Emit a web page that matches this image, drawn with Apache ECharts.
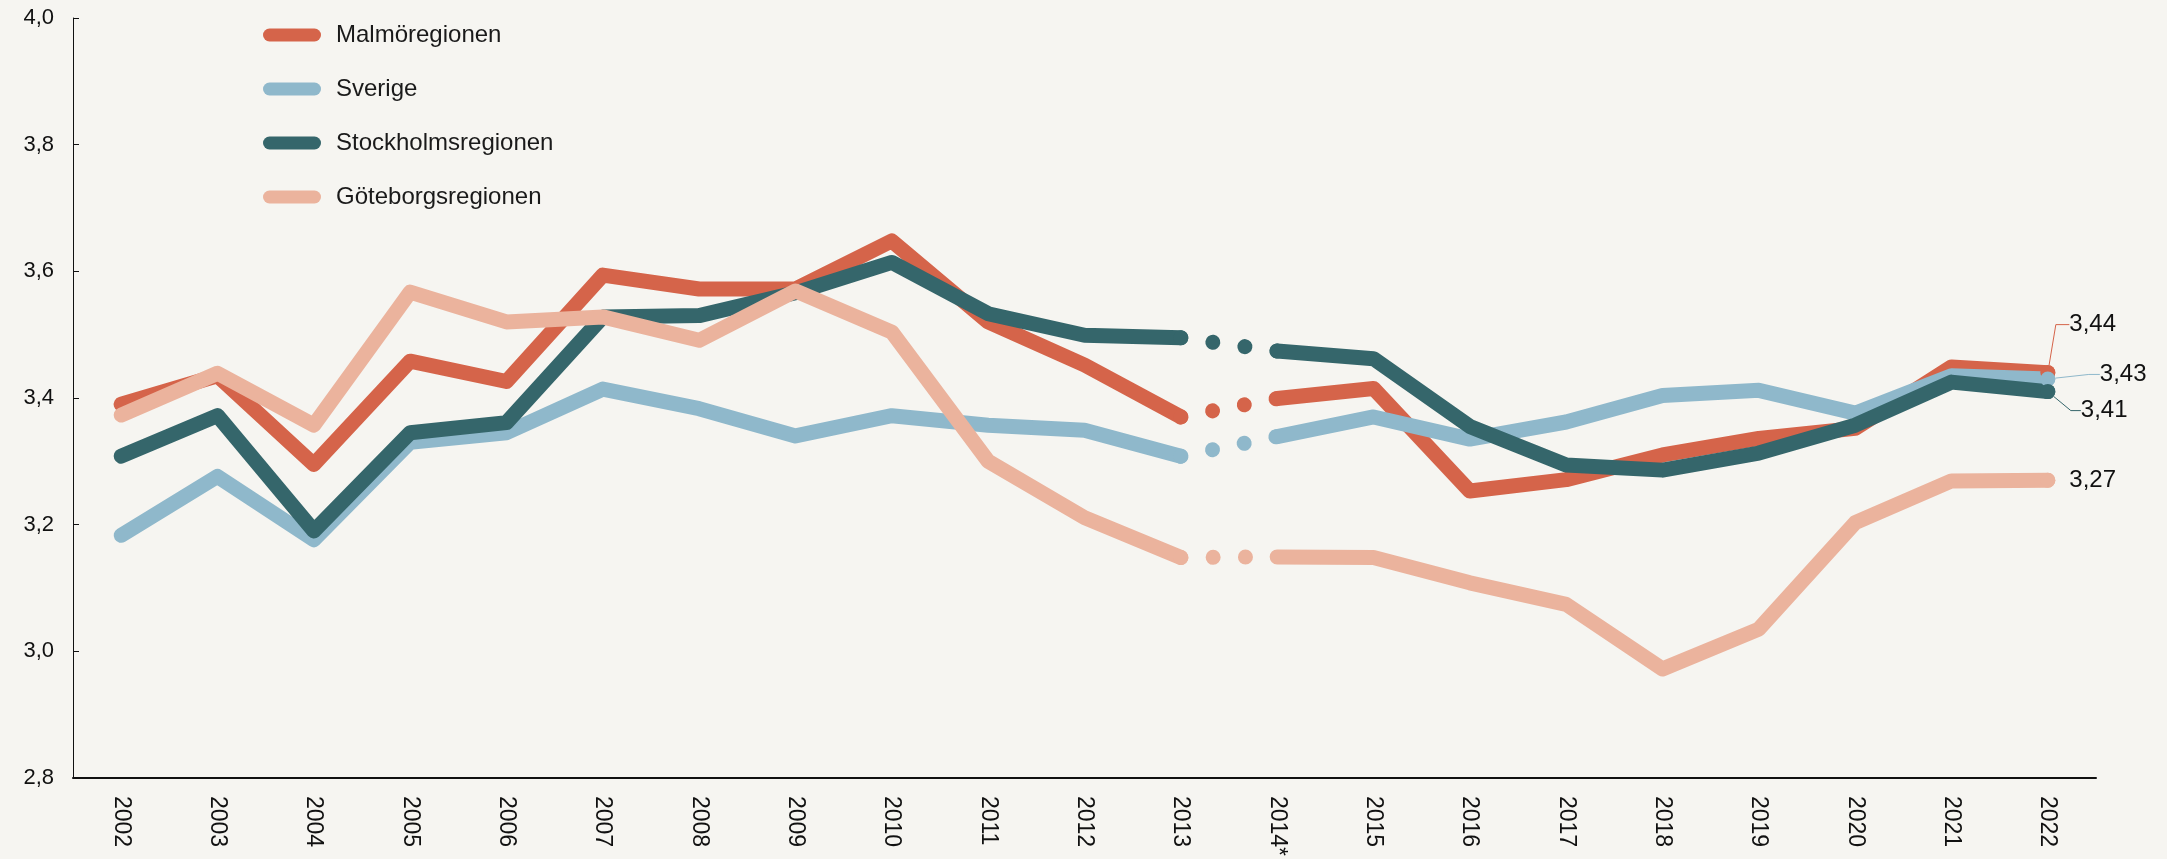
<!DOCTYPE html>
<html>
<head>
<meta charset="utf-8">
<title>Regioner 2002-2022</title>
<script src="https://cdn.jsdelivr.net/npm/echarts@6/dist/echarts.min.js"></script>
<style>
  html, body { margin: 0; padding: 0; background: #f6f5f1; }
  #main { width: 2167px; height: 859px; }
</style>
</head>
<body>
<div id="main"></div>
<script>
// kategorier (2014 har ett brott i serien)
var years = ['2002', '2003', '2004', '2005', '2006', '2007', '2008', '2009', '2010', '2011', '2012',
  '2013', '2014*', '2015', '2016', '2017', '2018', '2019', '2020', '2021', '2022'];
var yTicks = [2.8, 3.0, 3.2, 3.4, 3.6, 3.8, 4.0];

// värden
var malmo = [3.39, 3.435, 3.295, 3.458, 3.426, 3.594, 3.572, 3.572, 3.648, 3.52, 3.452,
  3.37, 3.399, 3.415, 3.253, 3.271, 3.31, 3.336, 3.352, 3.449, 3.44];
var sverige = [3.183, 3.276, 3.176, 3.33, 3.345, 3.414, 3.383, 3.34, 3.372, 3.357, 3.349,
  3.308, 3.339, 3.37, 3.335, 3.362, 3.404, 3.412, 3.376, 3.435, 3.43];
var stockholm = [3.308, 3.372, 3.19, 3.345, 3.361, 3.528, 3.53, 3.566, 3.614, 3.533, 3.499,
  3.495, 3.474, 3.462, 3.355, 3.294, 3.286, 3.313, 3.357, 3.425, 3.41];
var goteborg = [3.373, 3.439, 3.357, 3.567, 3.52, 3.528, 3.491, 3.569, 3.504, 3.3, 3.211,
  3.148, 3.149, 3.148, 3.108, 3.074, 2.972, 3.035, 3.203, 3.269, 3.27];

var breakIdx = years.indexOf('2014*');
var lineW = 15;
var font = '"Liberation Sans", Arial, sans-serif';

function comma(v, d) {
  return v.toFixed(d).replace('.', ',');
}

// en region = heldragen före brottet, prickar över brottet, heldragen efter
function region(name, values, color, layout, guide) {
  var before = values.map(function (v, i) { return i < breakIdx ? v : null; });
  var after = values.map(function (v, i) { return i >= breakIdx ? v : null; });
  var gap = values.map(function (v, i) { return (i === breakIdx - 1 || i === breakIdx) ? v : null; });
  var last = values.length - 1;
  after[last] = { value: values[last], symbol: 'circle', symbolSize: lineW, label: { show: true } };

  var base = {
    name: name,
    type: 'line',
    symbol: 'none',
    color: color,
    silent: true,
    lineStyle: { width: lineW, color: color, cap: 'round', join: 'round' }
  };
  var s1 = Object.assign({}, base, { data: before });
  var s2 = Object.assign({}, base, {
    data: after,
    label: {
      position: 'right',
      distance: 6,
      padding: [0, 0, 0, 8],
      fontSize: 24,
      fontFamily: font,
      color: '#111',
      formatter: function (p) { return comma(p.value, 2); }
    },
    labelLayout: layout,
    labelLine: { show: guide > 0, length2: guide, lineStyle: { width: 1, color: color } }
  });
  var s3 = Object.assign({}, base, {
    data: gap,
    lineStyle: { width: lineW, color: color, cap: 'round', type: [0.01, 32.3] }
  });
  return [s1, s3, s2];
}

var series = [].concat(
  region('Malmöregionen', malmo, '#d5644a', { dx: 0, dy: -48 }, 13.5),
  region('Sverige', sverige, '#8fb8cb', { dx: 30.5, dy: -4.5 }, 11),
  region('Stockholmsregionen', stockholm, '#35666b', { dx: 11.5, dy: 19 }, 10),
  region('Göteborgsregionen', goteborg, '#ebb39d', { dx: 0, dy: 0 }, 0)
);

var chart = echarts.init(document.getElementById('main'));
chart.setOption({
  backgroundColor: '#f6f5f1',
  animation: false,
  textStyle: { fontFamily: font },
  grid: { left: 73, right: 71, top: 18, bottom: 78 },
  legend: {
    data: ['Malmöregionen', 'Sverige', 'Stockholmsregionen', 'Göteborgsregionen'],
    orient: 'vertical',
    left: 258,
    top: 18,
    itemWidth: 58,
    itemHeight: 13,
    itemGap: 30,
    icon: 'path://M6.5,0 H51.5 A6.5,6.5 0 0 1 51.5,13 H6.5 A6.5,6.5 0 0 1 6.5,0 Z',
    textStyle: { fontSize: 24, color: '#1a1a1a', padding: [0, 0, 0, 10], fontFamily: font },
    selectedMode: false
  },
  xAxis: {
    type: 'category',
    data: years,
    boundaryGap: true,
    axisLine: { lineStyle: { color: '#111', width: 2 } },
    axisTick: { inside: true, length: 7, lineStyle: { color: '#111' } },
    axisLabel: { interval: 0, rotate: -90, margin: 18, fontSize: 23, color: '#111', fontFamily: font }
  },
  yAxis: {
    type: 'value',
    min: yTicks[0],
    max: yTicks[yTicks.length - 1],
    interval: Math.round((yTicks[1] - yTicks[0]) * 10) / 10,
    splitLine: { show: false },
    axisLine: { show: true, lineStyle: { color: '#111', width: 1 } },
    axisTick: { show: true, inside: true, length: 6, lineStyle: { color: '#111' } },
    axisLabel: {
      margin: 19, fontSize: 22, color: '#111', fontFamily: font,
      formatter: function (v) { return comma(v, 1); }
    }
  },
  series: series
});
</script>
</body>
</html>
